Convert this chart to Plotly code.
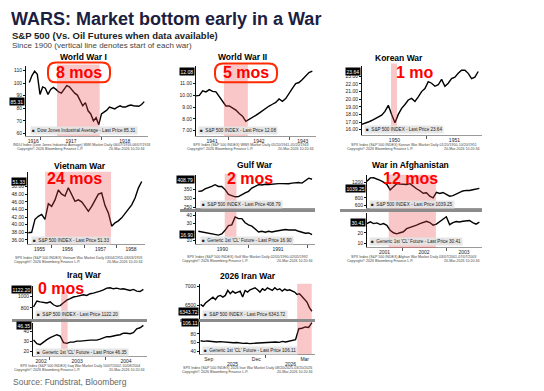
import numpy as np
import plotly.graph_objects as go

W, H = 544, 391

# ---------------- DATA ----------------
# World War I - Dow Jones Industrial Average
wwi_span = (1916.816, 1918.70)
wwi_dji = [100.5, 106, 109.5, 107, 91, 97, 96, 91, 95, 96.6, 95, 93, 92, 95.5, 98, 97,
           94, 92, 90.5, 86, 82, 84.5, 78, 75.5, 70, 72.5, 67, 75.5, 77, 78.5, 81, 80,
           79.5, 81, 82, 81, 81, 82, 82.6, 82, 82, 81.6, 83, 85.31]
# World War II - S&P 500
wwii_span = (1941.475, 1943.37)
wwii_spx = [9.96, 10.0, 10.4, 10.3, 10.5, 10.35, 10.3, 9.87, 9.45, 9.1, 9.1, 8.9, 8.75,
            8.46, 8.24, 7.8, 7.95, 8.15, 8.3, 8.5, 8.7, 8.95, 9.1, 9.25, 9.4, 9.7, 9.5,
            9.73, 10.2, 10.6, 11.0, 11.1, 11.35, 11.65, 11.95, 12.08]
# Korean War - S&P 500
korea_span = (1950.055, 1951.745)
korea_spx = [16.7, 16.8, 17.0, 17.2, 17.4, 17.6, 17.9, 18.4, 19.2, 18.0, 16.9, 18.0, 18.8,
             19.3, 19.9, 20.1, 19.7, 20.3, 21.0, 21.4, 22.3, 22.1, 21.7, 21.9, 22.6, 21.7,
             22.1, 22.7, 22.9, 23.4, 23.8, 23.8, 23.4, 22.7, 22.9, 23.64]
# Vietnam War - S&P 500
vietnam_span = (1955.31, 1958.75)
vietnam_spx = [37.9, 38.0, 41.4, 42.2, 42.7, 41.4, 45.5, 44.8, 46.5, 49.1, 48.0, 47.5, 49.7,
               48.0, 46.1, 46.5, 46.0, 44.8, 43.5, 44.8, 46.5, 48.0, 48.3, 45.0, 43.1, 39.6,
               40.5, 41.0, 41.8, 42.9, 44.0, 45.2, 47.0, 49.6, 51.33]
# Gulf War - S&P 500 and crude oil
gulf_span = (1990.14, 1992.08)
gulf_spx = [340, 342, 354, 359, 368, 378, 368, 368, 350, 322, 316, 309, 310, 322, 331, 340,
            359, 368, 378, 376, 380, 379, 381, 385, 384, 384, 382, 383, 387, 390, 390, 387,
            400, 415, 408.79]
gulf_oil = [20.8, 20, 18.8, 18, 17.7, 17, 16.2, 17.7, 22, 27.7, 28.5, 38, 36, 36, 31, 28.5,
            27, 23.5, 20, 20.8, 19.6, 20.8, 20, 20.8, 21.5, 22.3, 23, 22.3, 22.7, 22.3, 20.8,
            19.2, 18.5, 18.8, 16.9]
# War in Afghanistan - S&P 500 and crude oil
afgh_span = (2001.20, 2003.76)
afgh_spx = [1224, 1306, 1310, 1265, 1241, 1200, 1143, 1000, 1080, 1160, 1150, 1150, 1140,
            1160, 1090, 1030, 980, 915, 930, 841, 800, 939, 910, 935, 890, 841, 857, 898,
            930, 975, 990, 985, 1004, 1030, 1039.25]
afgh_oil = [29, 30.7, 29, 29.7, 28, 29, 27.3, 22.5, 20, 19, 20, 21, 24, 25, 26.5, 27.5, 29,
            30, 31.3, 30, 27.5, 28.5, 31, 33.5, 35.7, 28, 30, 31, 30.5, 31.3, 31.5, 32, 30,
            28.5, 30.41]
# Iraq War - S&P 500 and crude oil
iraq_span = (2002.72, 2004.685)
iraq_spx = [817, 920, 905, 890, 886, 905, 855, 829, 840, 890, 935, 960, 989, 1000, 1017,
            1029, 1017, 1046, 1057, 1069, 1091, 1114, 1143, 1149, 1131, 1143, 1126, 1131,
            1114, 1103, 1120, 1091, 1085, 1122.20]
iraq_oil = [31.7, 28, 27, 30, 32, 34, 35.7, 37, 35.7, 29, 28.3, 29.5, 29.5, 30.5, 30.5, 31,
            31, 31.5, 31.5, 31.5, 32.5, 33.8, 35, 35, 36, 36.5, 37, 38.5, 38.5, 38, 39, 43,
            44, 46.35]
# 2026 Iran War - S&P 500 and crude oil
iran_span = (2025.663, 2026.237)
iran_spx = [6526, 6474, 6561, 6614, 6675, 6719, 6649, 6737, 6763, 6719, 6763, 6895, 6807,
            6877, 6825, 6851, 6877, 6719, 6895, 6851, 6912, 6939, 6965, 6912, 6851, 6939,
            6895, 6965, 6930, 6895, 6965, 6912, 6939, 6877, 6930, 6895, 6912, 6877, 6851,
            6789, 6807, 6737, 6675, 6588, 6439, 6343.72]
iran_oil = [64.4, 62.9, 64, 63, 63.6, 61.5, 62.5, 61.5, 60.7, 61, 60, 60.5, 59.3, 58.5, 59,
            57.8, 58.5, 59, 59, 60, 59, 60.5, 60, 61.5, 60.7, 62.9, 61.5, 63.6, 65, 67, 92,
            93, 96, 95, 106.11]

# war start -> market bottom (decimal years)
war_names = ["World War I", "World War II", "Korean War", "Vietnam War", "Gulf War",
             "War in Afghanistan", "Iraq War", "2026 Iran War"]
war_start = [1917.27, 1941.93, 1950.48, 1955.82, 1990.59, 2001.695, 2003.214, 2026.161]
war_bottom = [1917.97, 1942.32, 1950.567, 1957.82, 1990.79, 2002.77, 2003.33, 2026.236]
months_to_bottom = ["8 mos", "5 mos", "1 mo", "24 mos", "2 mos", "12 mos", "0 mos", ""]
iran_month_ticks = [2025.705, 2025.95, 2026.20]
iran_month_text = ["Sep", "Dec", "Mar"]

# ---------------- LAYOUT HELPERS ----------------
def fx(p):
    return p / W


def fy(p):
    return 1 - p / H


FONT = "Liberation Sans, Arial, sans-serif"
NARROW = "Liberation Sans Narrow, Liberation Sans, Arial, sans-serif"

fig = go.Figure()
annotations = []
shapes = []


def year_ticks(x0, x1):
    vals, texts = [], []
    for yr in range(int(np.floor(x0)), int(np.floor(x1)) + 1):
        a, b = max(yr, x0), min(yr + 1, x1)
        if b - a > 0.15:
            vals.append((a + b) / 2)
            texts.append(str(yr))
    bounds = list(range(int(np.ceil(x0)), int(np.floor(x1)) + 1))
    return vals, texts, bounds


# subplot geometry: (x0, x1, ytop, ybottom) in px, x range, y range, y ticks, fmt, show x labels
subplots = [
    dict(px=(26, 148, 65, 136), xr=(1916.762, 1918.762), yr=(58, 114), yt=[60, 70, 80, 90, 100, 110], fmt="d", xl=True),
    dict(px=(196, 316, 65, 136), xr=(1941.475, 1943.43), yr=(6.55, 12.55), yt=[7, 8, 9, 10, 11], fmt=".2f", xl=True),
    dict(px=(362, 482, 65, 135), xr=(1950.06, 1951.80), yr=(15.3, 24.43), yt=[16, 17, 18, 19, 20, 21, 22, 23], fmt=".2f", xl=True),
    dict(px=(28, 145, 172, 245), xr=(1955.30, 1958.85), yr=(34.9, 53.9), yt=[36, 38, 40, 42, 44, 46, 48, 50], fmt=".2f", xl=True),
    dict(px=(196, 315, 175, 209), xr=(1990.10, 1992.13), yr=(243, 435), yt=[250, 300, 350], fmt="d", xl=False),
    dict(px=(196, 315, 213, 245), xr=(1990.10, 1992.13), yr=(5.4, 43.5), yt=[10, 30, 40], fmt="d", xl=True),
    dict(px=(367, 482, 175, 209), xr=(2001.20, 2003.82), yr=(531, 1389), yt=[600, 800, 1200], fmt="d", xl=False),
    dict(px=(367, 482, 214, 248), xr=(2001.20, 2003.82), yr=(6, 39), yt=[10, 20], fmt="d", xl=True),
    dict(px=(33, 147, 287, 320), xr=(2002.71, 2004.75), yr=(617, 1183), yt=[800, 1000], fmt="d", xl=False),
    dict(px=(33, 147, 324, 358), xr=(2002.71, 2004.75), yr=(15.3, 49.3), yt=[20, 30, 40], fmt="d", xl=True),
    dict(px=(200, 315, 285, 320), xr=(2025.66, 2026.253), yr=(6150, 7071), yt=[6500, 7000], fmt="d", xl=False),
    dict(px=(200, 315, 323, 356), xr=(2025.66, 2026.253), yr=(33.5, 108.4), yt=[40, 60, 80], fmt="d", xl=True, months=True),
]

SPX = "S&P 500 INDEX"
OIL = "Generic 1st 'CL' Future"
series = [
    (1, wwi_span, wwi_dji, "Dow Jones Industrial Average", (30, 130)),
    (2, wwii_span, wwii_spx, SPX, (198, 130)),
    (3, korea_span, korea_spx, SPX, (364, 129)),
    (4, vietnam_span, vietnam_spx, SPX, (31, 241)),
    (5, gulf_span, gulf_spx, SPX, (200, 205)),
    (6, gulf_span, gulf_oil, OIL, (200, 241)),
    (7, afgh_span, afgh_spx, SPX, (369, 205)),
    (8, afgh_span, afgh_oil, OIL, (369, 242)),
    (9, iraq_span, iraq_spx, SPX, (35, 316)),
    (10, iraq_span, iraq_oil, OIL, (35, 354)),
    (11, iran_span, iran_spx, SPX, (202, 316)),
    (12, iran_span, iran_oil, OIL, (202, 352)),
]

layout = {}
for i, sp in enumerate(subplots, start=1):
    x0, x1, yt, yb = sp["px"]
    xn = "xaxis" if i == 1 else f"xaxis{i}"
    yn = "yaxis" if i == 1 else f"yaxis{i}"
    xa = dict(domain=[fx(x0), fx(x1)], range=list(sp["xr"]), anchor=f"y{i}" if i > 1 else "y",
              showgrid=False, zeroline=False, showline=True, linecolor="#9a9a9a", linewidth=0.6,
              fixedrange=True)
    if sp["xl"]:
        if sp.get("months"):
            vals, texts = iran_month_ticks, iran_month_text
            bounds = [2026]
        else:
            vals, texts, bounds = year_ticks(*sp["xr"])
        xa.update(tickmode="array", tickvals=vals, ticktext=texts, ticks="", showticklabels=True,
                  tickfont=dict(size=5, color="#222", family=FONT),
                  minor=dict(tickmode="array", tickvals=bounds, ticks="outside", ticklen=3,
                             tickcolor="#555", tickwidth=0.8))
    else:
        xa.update(showticklabels=False, ticks="")
    ya = dict(domain=[fy(yb), fy(yt)], range=list(sp["yr"]), anchor=f"x{i}" if i > 1 else "x",
              showgrid=False, zeroline=False, showline=True, linecolor="#111", linewidth=0.8,
              tickmode="array", tickvals=sp["yt"], tickformat=sp["fmt"], ticks="outside",
              ticklen=2, tickcolor="#111", tickfont=dict(size=5, color="#222", family=FONT),
              fixedrange=True)
    layout[xn] = xa
    layout[yn] = ya

for idx, span, vals, name, leg in series:
    xs = np.linspace(span[0], span[1], len(vals))
    xr = "x" if idx == 1 else f"x{idx}"
    yr = "y" if idx == 1 else f"y{idx}"
    fig.add_trace(go.Scatter(x=xs, y=vals, mode="lines", xaxis=xr, yaxis=yr,
                             line=dict(color="#000", width=1.4), showlegend=False,
                             hoverinfo="skip"))
    sp = subplots[idx - 1]
    last = vals[-1]
    # last price tag
    annotations.append(dict(xref="paper", yref=yr, x=fx(sp["px"][0] - 1), y=last,
                            xanchor="right", yanchor="middle", showarrow=False,
                            text=f"{last:.2f}", bgcolor="#000", borderpad=0.5,
                            font=dict(size=5, color="#fff", family=FONT)))
    # legend box
    annotations.append(dict(xref="paper", yref="paper", x=fx(leg[0]), y=fy(leg[1]),
                            xanchor="left", yanchor="middle", showarrow=False,
                            text=f"■  {name} - Last Price {last:.2f}", bgcolor="rgba(228,228,228,0.92)",
                            borderpad=1, font=dict(size=4.6, color="#222", family=FONT)))

# panels: which subplot indices, shading vertical extent px, title pos, label pos
panels = [
    dict(sub=[1], shade_y=(64, 136), title=(83, 56), label=(79, 72), box=(48, 110, 62, 82)),
    dict(sub=[2], shade_y=(64, 136), title=(242, 56), label=(246, 72), box=(215, 277, 63, 82)),
    dict(sub=[3], shade_y=(63, 133), title=(399, 57), label=(415, 72)),
    dict(sub=[4], shade_y=(172, 245), title=(80, 166), label=(74, 179)),
    dict(sub=[5, 6], shade_y=(174, 245), title=(255, 165), label=(250, 179), bar=(180, 315, 211)),
    dict(sub=[7, 8], shade_y=(175, 249), title=(410, 165), label=(410, 179), bar=(340, 482, 211)),
    dict(sub=[9, 10], shade_y=(293, 358), title=(84, 276), label=(61, 290), bar=(12, 147, 322)),
    dict(sub=[11, 12], shade_y=(285, 356), title=(248, 277), label=None, bar=(180, 315, 322)),
]

footers = [
    ("INDU Index (Dow Jones Industrial Average) WWI Market Daily 06/07/1916-06/07/1918", (15, 147, 145)),
    ("SPX Index (S&P 500 INDEX) WWII Market Daily 05/20/1941-05/20/1943", (185, 316, 145)),
    ("SPX Index (S&P 500 INDEX) Korean War Market Daily 01/20/1950-10/20/1951", (345, 482, 145)),
    ("SPX Index (S&P 500 INDEX) Vietnam War Market Daily 03/04/1955-03/03/1959", (12, 145, 259)),
    ("SPX Index (S&P 500 INDEX) Gulf War Market Daily 02/05/1990-02/05/1992", (180, 315, 258)),
    ("SPX Index (S&P 500 INDEX) Afghan War Market Daily 03/07/2001-07/07/2003", (345, 482, 258)),
    ("SPX Index (S&P 500 INDEX) Iraq War Market Daily 10/07/2002-10/08/2004", (12, 147, 368)),
    ("SPX Index (S&P 500 INDEX) 2026 Iran War Market Daily 08/20/2025-03/20/2026", (180, 315, 370)),
]

for k, p in enumerate(panels):
    first = p["sub"][0]
    xr = "x" if first == 1 else f"x{first}"
    shapes.append(dict(type="rect", xref=xr, yref="paper", x0=war_start[k], x1=war_bottom[k],
                       y0=fy(p["shade_y"][1]), y1=fy(p["shade_y"][0]), layer="above",
                       fillcolor="rgba(236,70,70,0.30)", line=dict(width=0)))
    annotations.append(dict(xref="paper", yref="paper", x=fx(p["title"][0]), y=fy(p["title"][1]),
                            xanchor="center", yanchor="middle", showarrow=False,
                            text=f"<b>{war_names[k]}</b>",
                            font=dict(size=8.5, color="#000", family=NARROW)))
    if p["label"]:
        annotations.append(dict(xref="paper", yref="paper", x=fx(p["label"][0]), y=fy(p["label"][1]),
                                xanchor="center", yanchor="middle", showarrow=False,
                                text=f"<b>{months_to_bottom[k]}</b>",
                                font=dict(size=16, color="#ff0000", family=FONT)))
    if "box" in p:
        bx0, bx1, by0, by1 = p["box"]
        r = 8
        X0, X1, Y0, Y1 = fx(bx0), fx(bx1), fy(by0), fy(by1)
        rx, ry = r / W, r / H
        path = (f"M {X0+rx},{Y0} L {X1-rx},{Y0} Q {X1},{Y0} {X1},{Y0-ry} "
                f"L {X1},{Y1+ry} Q {X1},{Y1} {X1-rx},{Y1} L {X0+rx},{Y1} "
                f"Q {X0},{Y1} {X0},{Y1+ry} L {X0},{Y0-ry} Q {X0},{Y0} {X0+rx},{Y0} Z")
        shapes.append(dict(type="path", xref="paper", yref="paper", path=path,
                           line=dict(color="#ff2a00", width=2), layer="above"))
    if "bar" in p:
        a, b, yy = p["bar"]
        shapes.append(dict(type="line", xref="paper", yref="paper", x0=fx(a), x1=fx(b),
                           y0=fy(yy), y1=fy(yy), line=dict(color="#8c8c8c", width=3),
                           layer="above"))
    ftxt, (fa, fb, fyy) = footers[k]
    annotations.append(dict(xref="paper", yref="paper", x=fx((fa + fb) / 2), y=fy(fyy),
                            xanchor="center", yanchor="middle", showarrow=False, text=ftxt,
                            font=dict(size=3.6, color="#444", family=FONT)))
    annotations.append(dict(xref="paper", yref="paper", x=fx(fa), y=fy(fyy + 4),
                            xanchor="left", yanchor="middle", showarrow=False,
                            text="Copyright© 2026 Bloomberg Finance L.P.",
                            font=dict(size=3.6, color="#444", family=FONT)))
    annotations.append(dict(xref="paper", yref="paper", x=fx(fb), y=fy(fyy + 4),
                            xanchor="right", yanchor="middle", showarrow=False,
                            text="20-Mar-2026 10:20:34",
                            font=dict(size=3.6, color="#444", family=FONT)))

# Iran year labels under month labels
for yr_lbl, (a, b) in [("2025", (2025.66, 2026.0)), ("2026", (2026.0, 2026.253))]:
    annotations.append(dict(xref="x12", yref="paper", x=(a + b) / 2, y=fy(365.5),
                            xanchor="center", yanchor="middle", showarrow=False, text=yr_lbl,
                            font=dict(size=5, color="#222", family=FONT)))

# headline texts
annotations += [
    dict(xref="paper", yref="paper", x=fx(9), y=fy(18), xanchor="left", yanchor="middle",
         showarrow=False, text="<b>WARS: Market bottom early in a War</b>",
         font=dict(size=18, color="#1b2040", family=NARROW)),
    dict(xref="paper", yref="paper", x=fx(10), y=fy(35), xanchor="left", yanchor="middle",
         showarrow=False, text="<b>S&P 500 (Vs. Oil Futures when data available)</b>",
         font=dict(size=9.5, color="#222", family=NARROW)),
    dict(xref="paper", yref="paper", x=fx(10), y=fy(45), xanchor="left", yanchor="middle",
         showarrow=False, text="Since 1900 (vertical line denotes start of each war)",
         font=dict(size=8, color="#444", family=NARROW)),
    dict(xref="paper", yref="paper", x=fx(11), y=fy(384), xanchor="left", yanchor="middle",
         showarrow=False, text="Source: Fundstrat, Bloomberg",
         font=dict(size=8.5, color="#666", family=NARROW)),
]

fig.update_layout(width=W, height=H, autosize=False, margin=dict(l=0, r=0, t=0, b=0),
                  paper_bgcolor="#fff", plot_bgcolor="#fff", showlegend=False,
                  annotations=annotations, shapes=shapes, **layout)
fig.write_html("out.html", config={"displayModeBar": False},
               post_script="document.body.style.margin='0';document.body.style.padding='0';")
